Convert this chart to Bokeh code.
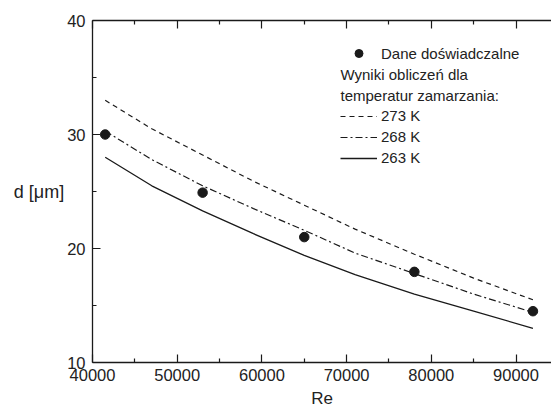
from bokeh.plotting import figure
from bokeh.models import (Range1d, FixedTicker, LinearAxis, Legend, LegendItem, Label)
from bokeh.embed import file_html
from bokeh.resources import INLINE

# ---- data ----
re_exp = [41500, 53000, 65000, 78000, 92000]
d_exp = [30.0, 24.9, 21.0, 17.95, 14.5]

re_calc = [41500, 47000, 53000, 59000, 65000, 71000, 78000, 85000, 92000]
d_273 = [33.0, 30.5, 28.2, 25.9, 23.8, 21.7, 19.5, 17.4, 15.5]
d_268 = [30.3, 27.8, 25.5, 23.5, 21.6, 19.6, 17.8, 16.0, 14.4]
d_263 = [28.0, 25.5, 23.3, 21.3, 19.4, 17.7, 16.0, 14.5, 13.0]

x_ticks = [40000, 50000, 60000, 70000, 80000, 90000]
x_minor = [45000, 55000, 65000, 75000, 85000, 95000]
y_ticks = [10, 20, 30, 40]
y_minor = [15, 25, 35]

legend_exp = "Dane doświadczalne"
legend_head = ["Wyniki obliczeń dla", "temperatur zamarzania:"]
legend_lines = ["273 K", "268 K", "263 K"]

FONT = "Liberation Sans"
INK = "#1a1a1a"
TXT = "#222222"

p = figure(width=551, height=414, output_backend="svg", toolbar_location=None,
           x_range=Range1d(40000, 94190), y_range=Range1d(10, 40),
           x_axis_location=None, y_axis_location=None,
           min_border_left=92, min_border_right=0, min_border_top=20, min_border_bottom=52)
p.outline_line_color = None
p.grid.visible = False
p.background_fill_color = "white"
p.border_fill_color = "white"

def style_axis(ax, labels=True):
    ax.axis_line_color = INK
    ax.axis_line_width = 1.3
    ax.major_tick_line_color = INK
    ax.minor_tick_line_color = INK
    ax.major_tick_line_width = 1.2
    ax.minor_tick_line_width = 1.2
    ax.major_tick_in = 8
    ax.major_tick_out = 0
    ax.minor_tick_in = 4
    ax.minor_tick_out = 0
    ax.major_label_text_font = FONT
    ax.major_label_text_color = TXT
    ax.major_label_text_font_size = "16.5px"
    ax.axis_label_text_font = FONT
    ax.axis_label_text_font_style = "normal"
    ax.axis_label_text_color = TXT

xb = LinearAxis(ticker=FixedTicker(ticks=x_ticks, minor_ticks=x_minor))
style_axis(xb)
xb.major_label_standoff = 6
xb.axis_label = "Re"
xb.axis_label_text_font_size = "17px"
xb.axis_label_standoff = 5
p.add_layout(xb, "below")

xt = LinearAxis(ticker=FixedTicker(ticks=x_ticks, minor_ticks=x_minor))
style_axis(xt)
xt.major_label_overrides = {t: "" for t in x_ticks}
xt.major_label_standoff = 0
p.add_layout(xt, "above")

yl = LinearAxis(ticker=FixedTicker(ticks=y_ticks, minor_ticks=y_minor))
style_axis(yl)
yl.major_label_standoff = 7
yl.axis_label = "d [μm]"
yl.axis_label_orientation = "horizontal"
yl.axis_label_text_font_size = "18px"
yl.axis_label_standoff = 0
p.add_layout(yl, "left")

# ---- curves ----
r273 = p.line(re_calc, d_273, line_color=INK, line_width=1.2, line_dash="5 4")
r268 = p.line(re_calc, d_268, line_color=INK, line_width=1.2, line_dash="7 3 2 3")
r263 = p.line(re_calc, d_263, line_color=INK, line_width=1.3)
rexp = p.scatter(re_exp, d_exp, marker="circle", size=9.5, fill_color=INK, line_color=INK)

# ---- legends ----
def style_legend(lg):
    lg.background_fill_alpha = 0
    lg.border_line_color = None
    lg.padding = 0
    lg.margin = 0
    lg.spacing = 1
    lg.glyph_width = 37
    lg.glyph_height = 20
    lg.label_height = 20
    lg.label_standoff = 4
    lg.label_text_font = FONT
    lg.label_text_font_size = "15px"
    lg.label_text_color = TXT

lg1 = Legend(items=[LegendItem(label=legend_exp, renderers=[rexp])], location=(248, 299))
style_legend(lg1)
p.add_layout(lg1, "center")

lg2 = Legend(items=[LegendItem(label=legend_lines[0], renderers=[r273]),
                    LegendItem(label=legend_lines[1], renderers=[r268]),
                    LegendItem(label=legend_lines[2], renderers=[r263])],
             location=(248, 194.5))
style_legend(lg2)
p.add_layout(lg2, "center")

for txt, yy in zip(legend_head, [35.26, 33.42]):
    p.add_layout(Label(x=69279, y=yy, text=txt, text_font=FONT, text_font_size="15px",
                       text_color=TXT, text_baseline="middle", text_align="left"))

# subscript of Re_d (mostly cut off at the bottom edge in the reference)
p.add_layout(Label(x=68689, y=6.05, text="d", text_font=FONT, text_font_size="10px",
                   text_color=TXT, text_baseline="top", text_align="left", level="overlay"))

open("out.html", "w").write(file_html(p, INLINE))
